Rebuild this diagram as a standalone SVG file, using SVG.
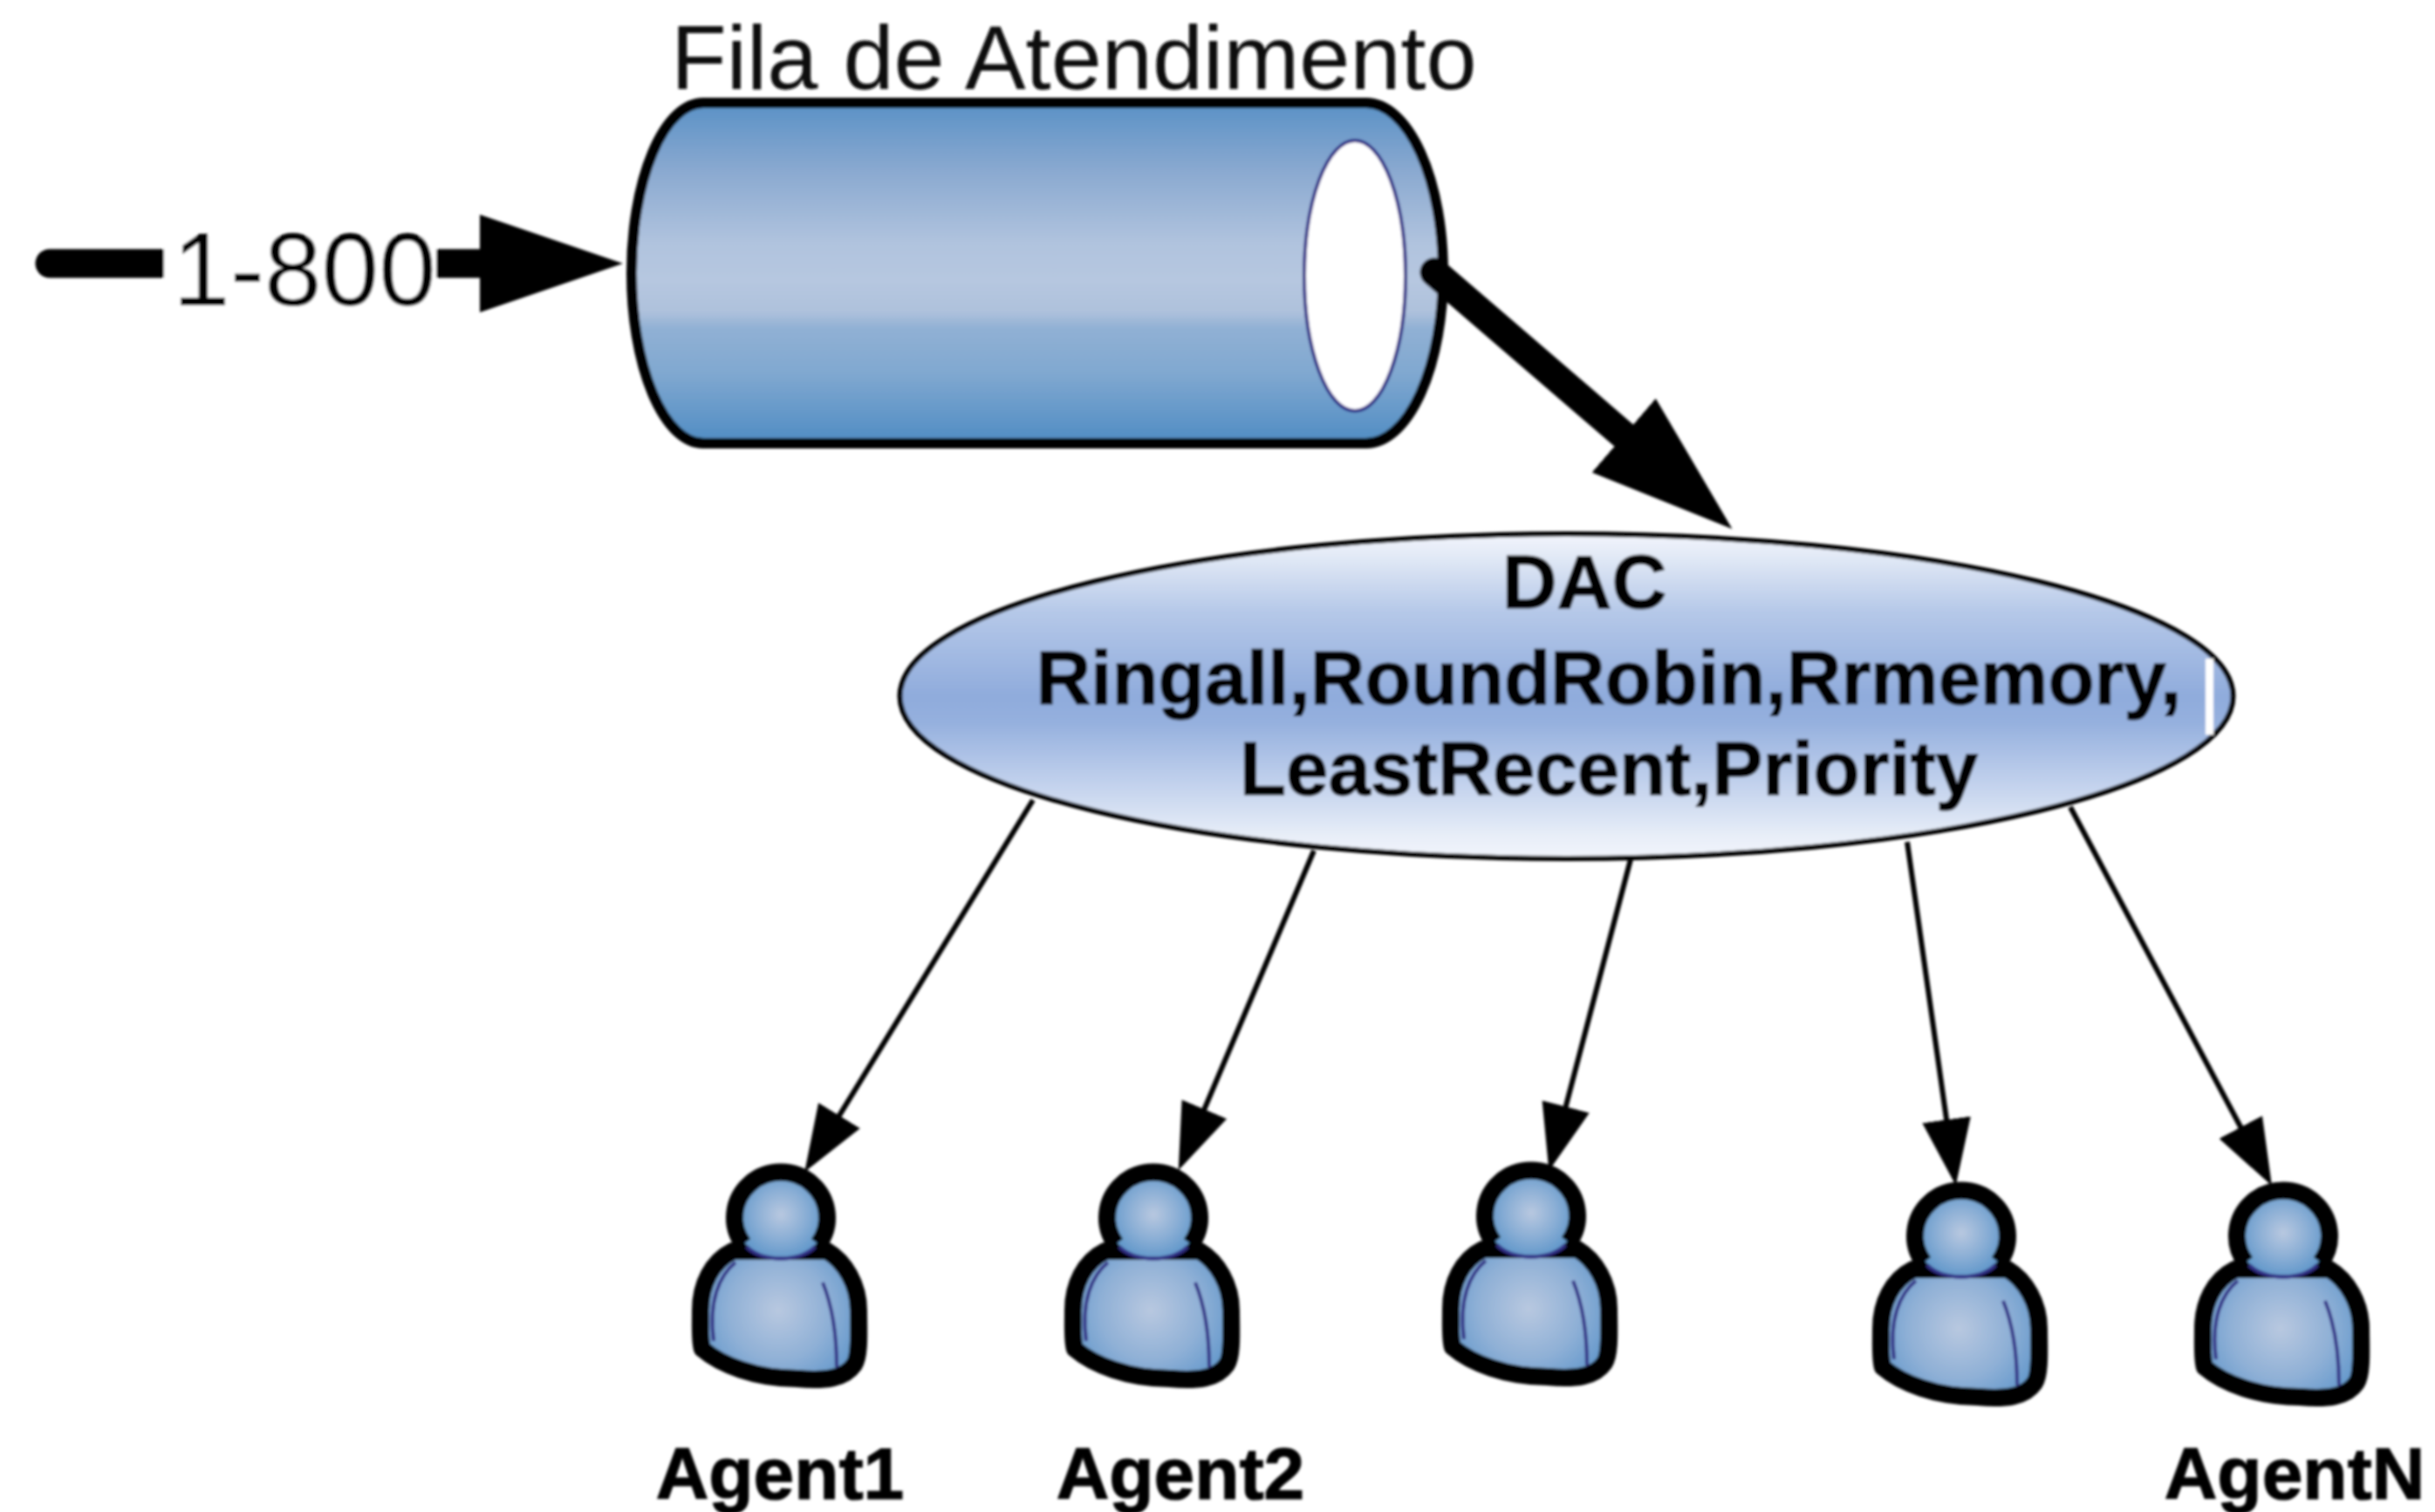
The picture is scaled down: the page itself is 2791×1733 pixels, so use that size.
<svg xmlns="http://www.w3.org/2000/svg" width="2791" height="1733" viewBox="0 0 2791 1733">
<style>
text{font-family:"Liberation Sans",Arial,sans-serif;fill:#000}
.b{font-weight:bold;font-size:87px;text-anchor:middle;stroke:#000;stroke-width:1.200px}
.a{font-weight:bold;font-size:84px;text-anchor:middle;stroke:#000;stroke-width:1.200px}
.r{font-size:104.500px;fill:#111}
.thin{fill:none;stroke:#000;stroke-width:6;marker-end:url(#small)}
.thick{fill:none;stroke:#000;stroke-width:33;stroke-linecap:round;marker-end:url(#big)}
</style>
<defs>
<linearGradient id="cyl" gradientUnits="userSpaceOnUse" x1="0" y1="118" x2="0" y2="510">
<stop offset="0" stop-color="#5a91c6"/><stop offset=".2" stop-color="#8aa9d0"/><stop offset=".41" stop-color="#b0c3de"/><stop offset=".52" stop-color="#b6c7e0"/><stop offset=".61" stop-color="#aec1dc"/><stop offset=".66" stop-color="#90b0d4"/><stop offset=".79" stop-color="#80a8d0"/><stop offset=".95" stop-color="#5a92c6"/><stop offset="1" stop-color="#4f8cc2"/>
</linearGradient>
<linearGradient id="ell" gradientUnits="userSpaceOnUse" x1="0" y1="612" x2="0" y2="985">
<stop offset="0" stop-color="#f2f5fc"/><stop offset=".08" stop-color="#dfe7f5"/><stop offset=".24" stop-color="#b5c8e8"/><stop offset=".5" stop-color="#8fabdc"/><stop offset=".58" stop-color="#95b0de"/><stop offset=".76" stop-color="#c0d0ec"/><stop offset=".93" stop-color="#e8eef8"/><stop offset="1" stop-color="#f2f5fc"/>
</linearGradient>
<radialGradient id="pb" gradientUnits="userSpaceOnUse" cx="96" cy="170" r="105">
<stop offset="0" stop-color="#b8c8e0"/><stop offset=".55" stop-color="#8fb0d6"/><stop offset="1" stop-color="#5e95ca"/>
</radialGradient>
<radialGradient id="ph" gradientUnits="userSpaceOnUse" cx="99" cy="60" r="52">
<stop offset="0" stop-color="#b8c8e0"/><stop offset=".55" stop-color="#8aaed5"/><stop offset="1" stop-color="#6097ca"/>
</radialGradient>
<marker id="big" markerUnits="userSpaceOnUse" markerWidth="170" markerHeight="116" refX="104" refY="57" orient="auto"><path d="M0,1 L164,57 L0,113 Z" fill="#000"/></marker>
<marker id="small" markerUnits="userSpaceOnUse" markerWidth="80" markerHeight="60" refX="42" refY="28" orient="auto"><path d="M0,0 L76,28 L0,56 Z" fill="#000"/></marker>
<g id="person">
<path d="M44,102 C20,114 7,140 7,170 C7,190 6,205 9,214 C30,232 70,248 118,248 C150,251 172,248 183,232 C190,222 188,190 188,170 C188,140 172,114 152,102 Z" fill="url(#pb)" stroke="#000" stroke-width="20" stroke-linejoin="round"/>
<path d="M147,138 C158,165 163,200 163,235 M47,115 C28,130 16,160 22,205" fill="none" stroke="#332f85" stroke-width="4"/>
<ellipse cx="99" cy="60" rx="53" ry="52" fill="url(#ph)"/>
<path d="M56,94 A53,52 0 1 1 142,94" fill="none" stroke="#000" stroke-width="20"/>
<path d="M60,97 C78,115 120,115 138,97" fill="none" stroke="#332f85" stroke-width="4.500"/>
</g>
<filter id="soft" filterUnits="userSpaceOnUse" x="0" y="0" width="2791" height="1733"><feGaussianBlur stdDeviation="1.500"/></filter>
</defs>
<rect width="2791" height="1733" fill="#fff"/>
<g filter="url(#soft)">
<g id="fila">
<path d="M806,118 L1566,118 A88,195 0 0 1 1566,508 L806,508 A82,195 0 0 1 806,118 Z" fill="url(#cyl)" stroke="#000" stroke-width="12"/>
<ellipse cx="1553" cy="316" rx="58" ry="155" fill="#fff" stroke="#2f2c85" stroke-width="4"/>
<text class="r" x="769" y="102">Fila de Atendimento</text>
</g>
<g id="dac">
<ellipse cx="1795.500" cy="798" rx="764" ry="186" fill="url(#ell)" stroke="#000" stroke-width="6"/>
<rect x="2528" y="755" width="9" height="87" fill="#fff"/>
<text class="b" x="1816" y="697">DAC</text>
<text class="b" x="1844" y="807">Ringall,RoundRobin,Rrmemory,</text>
<text class="b" x="1844" y="911">LeastRecent,Priority</text>
</g>
<g id="agent1"><use href="#person" x="796" y="1332"/><text class="a" x="894" y="1718">Agent1</text></g>
<g id="agent2"><use href="#person" x="1223" y="1332"/><text class="a" x="1353" y="1718">Agent2</text></g>
<g id="agent3"><use href="#person" x="1656" y="1330"/></g>
<g id="agent4"><use href="#person" x="2149" y="1353"/></g>
<g id="agentN"><use href="#person" x="2518" y="1353"/><text class="a" x="2630" y="1718">AgentN</text></g>
<g id="connectors">
<path class="thick" d="M57,302 L654,302"/>
<rect x="188" y="270" width="312" height="90" fill="#fff"/>
<text x="198" y="350" font-size="118" fill="#111">1-800</text>
<path class="thick" d="M1644,312 L1940,567"/>
<path class="thin" d="M1184,917 L940,1314.400"/>
<path class="thin" d="M1506,975 L1364,1310"/>
<path class="thin" d="M1869,985 L1784,1309"/>
<path class="thin" d="M2186,965 L2237,1325"/>
<path class="thin" d="M2373,925 L2588,1329"/>
</g>
</g>
</svg>
